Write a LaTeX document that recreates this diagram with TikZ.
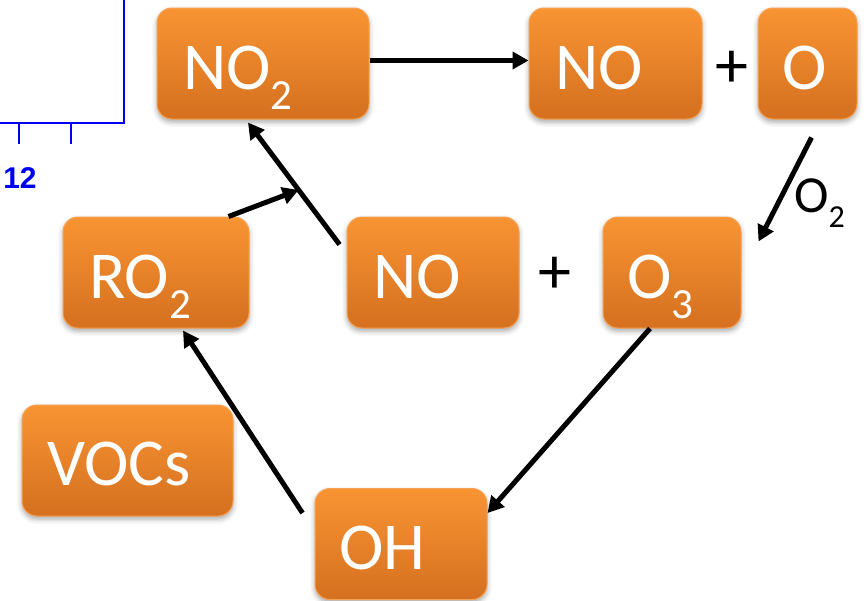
\documentclass[tikz,border=0pt]{standalone}
\usepackage{fontspec}
\setmainfont{Carlito}
\newfontfamily\axisfont{Liberation Sans}
\usetikzlibrary{arrows.meta,calc,shadows.blur}
\definecolor{otop}{HTML}{F99433}
\definecolor{obot}{HTML}{D4701F}
\definecolor{oborder}{HTML}{F6A255}
\definecolor{axisblue}{HTML}{0000F0}
\newcommand\subs[2][43]{\raisebox{-20pt}{\fontsize{#1}{#1}\selectfont #2}}
\tikzset{
  box/.style={rounded corners=15pt, top color=otop, bottom color=obot, draw=oborder,
    line width=1pt, inner sep=0pt,
    blur shadow={shadow xshift=0pt, shadow yshift=-3pt, shadow opacity=35, shadow blur radius=5pt}},
  lbl/.style={text=white, inner sep=0pt, anchor=base west, font=\fontsize{67}{67}\selectfont},
  plus/.style={text=black, inner sep=0pt, font=\fontsize{66}{66}\selectfont},
  arr/.style={line width=5pt, draw=black, -{Triangle[length=16pt,width=17pt]}},
  axisline/.style={line width=2.2pt, draw=axisblue},
}
\begin{document}
\begin{tikzpicture}[x=1pt,y=-1pt]
\useasboundingbox (0,0) rectangle (866,600);
% blue axis fragment
\draw[axisline] (0,123) -- (124,123) -- (124,-2);
\draw[axisline] (19,123) -- (19,144);
\draw[axisline] (71,123) -- (71,144);
\node[text=axisblue, inner sep=0pt, font=\axisfont\bfseries\fontsize{30}{30}\selectfont] (tick12) at (20,178) {12};
% boxes
\node[box, minimum width=212pt, minimum height=111pt] (no2) at (263,63.5) {};
\node[box, minimum width=173pt, minimum height=111pt] (noTop) at (615.5,63.5) {};
\node[box, minimum width=99pt, minimum height=111pt] (oTop) at (807.5,63.5) {};
\node[box, minimum width=186pt, minimum height=111pt] (ro2) at (156,272.5) {};
\node[box, minimum width=172pt, minimum height=111pt] (noMid) at (433,272.5) {};
\node[box, minimum width=138pt, minimum height=111pt] (o3) at (672,272.5) {};
\node[box, minimum width=211pt, minimum height=111pt] (vocs) at (127.5,460.5) {};
\node[box, minimum width=172pt, minimum height=111pt] (oh) at (401,544) {};
% labels
\node[lbl] (t-no2) at (183,89) {NO\subs{2}};
\node[lbl] (t-noTop) at (555,89) {NO};
\node[lbl] (t-oTop) at (782,89) {O};
\node[lbl] (t-ro2) at (89,298) {RO\subs{2}};
\node[lbl] (t-noMid) at (373,298) {NO};
\node[lbl] (t-o3) at (627,298) {O\subs{3}};
\node[lbl] (t-vocs) at (47,485) {VOCs};
\node[lbl] (t-oh) at (339,569) {OH};
\node[plus] (plusTop) at (732,69) {+};
\node[plus] (plusMid) at (555,275) {+};
% connectors
\draw[arr] ($(no2.east)+(0,-3)$) -- ($(noTop.west)+(0,-3)$);
\draw[arr] ($(oTop.south)+(4,18)$) -- ($(o3.north east)+(17,25)$);
\node[inner sep=0pt, anchor=base west, font=\fontsize{52}{52}\selectfont] (o2lbl) at (794,212) {O\raisebox{-15pt}{\fontsize{32}{32}\selectfont 2}};
\draw[arr] ($(noMid.north west)+(-7,28)$) -- coordinate[pos=0.447] (j) ($(no2.south)+(-15,3)$);
\draw[arr] ($(ro2.north east)+(-21,0)$) -- (j);
\draw[arr] ($(o3.south)+(-22,0)$) -- ($(oh.east)+(0,-31)$);
\draw[arr] ($(oh.west)+(-12,-31)$) -- ($(ro2.south)+(27,2)$);
\end{tikzpicture}
\end{document}
